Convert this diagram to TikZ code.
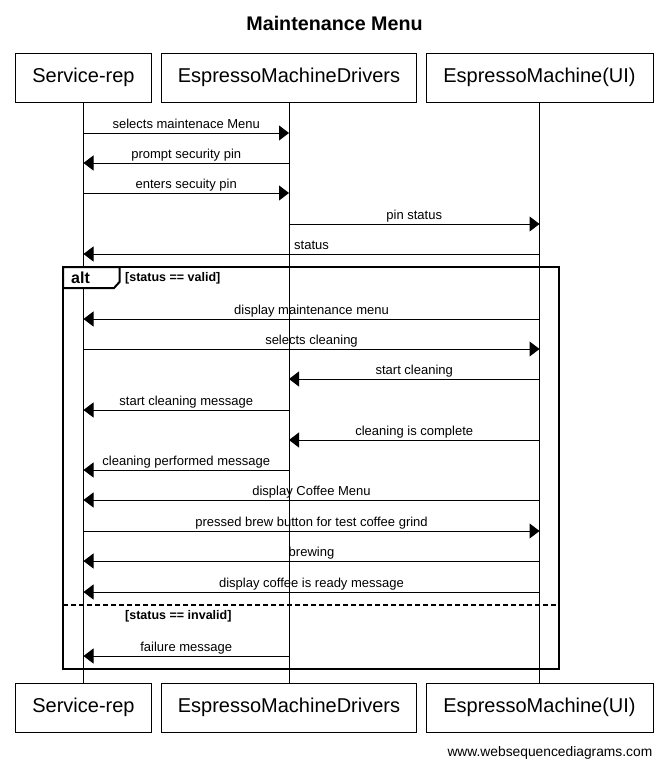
\documentclass[tikz,border=0pt]{standalone}
\usepackage{fontspec}
\setmainfont{Liberation Sans}
\usetikzlibrary{arrows.meta}

% One message: name, y, sender node, receiver node, label
\newcommand\Msg[5]{%
  \coordinate (#1a) at (#3.south |- 0,#2);
  \coordinate (#1b) at (#4.south |- 0,#2);
  \draw[msg] (#1a) -- node[lbl,yshift=4.5pt]{#5} (#1b);}

\begin{document}
\begin{tikzpicture}[x=1pt,y=-1pt,
  actor/.style={draw,line width=1pt,minimum height=49pt,inner sep=0pt,
    font=\fontsize{20}{24}\selectfont},
  lifeline/.style={line width=1pt},
  msg/.style={line width=1pt,-{Triangle[length=10pt,width=15pt]}},
  lbl/.style={anchor=base,inner sep=0pt,font=\fontsize{13}{15}\selectfont},
  frame/.style={line width=2pt},
  cond/.style={anchor=base west,inner sep=0pt,font=\bfseries\fontsize{12.5}{15}\selectfont}]
\useasboundingbox (0,0) rectangle (667,766);

% title
\node[anchor=base,inner sep=0pt,font=\bfseries\fontsize{19.7}{23}\selectfont]
  (title) at (334.5,30) {Maintenance Menu};

% participants, top and bottom
\node[actor,minimum width=136pt] (srT) at (83.5,77.5) {Service-rep};
\node[actor,minimum width=255pt] (drT) at (289,77.5) {EspressoMachineDrivers};
\node[actor,minimum width=227pt] (uiT) at (539.5,77.5) {EspressoMachine(UI)};
\node[actor,minimum width=136pt] (srB) at (83.5,707.5) {Service-rep};
\node[actor,minimum width=255pt] (drB) at (289,707.5) {EspressoMachineDrivers};
\node[actor,minimum width=227pt] (uiB) at (539.5,707.5) {EspressoMachine(UI)};

% lifelines
\draw[lifeline] (srT.south) -- (srB.north);
\draw[lifeline] (drT.south) -- (drB.north);
\draw[lifeline] (uiT.south) -- (uiB.north);

% messages before the alternative
\Msg{m1}{133}{srT}{drT}{selects maintenace Menu}
\Msg{m2}{163}{drT}{srT}{prompt security pin}
\Msg{m3}{193}{srT}{drT}{enters secuity pin}
\Msg{m4}{224}{drT}{uiT}{pin status}
\Msg{m5}{254}{uiT}{srT}{status}

% alt frame with its tab
\draw[frame] (63,267) rectangle (558.5,669);
\draw[frame,fill=white] (63,267) -- (119.5,267) -- (119.5,282) -- (114,288) -- (63,288) -- cycle;
\node[anchor=base west,inner sep=0pt,font=\bfseries\fontsize{16}{19}\selectfont]
  (altlbl) at (71,283) {alt};
\node[cond] (valid) at (125,281) {[status == valid]};
\draw[frame,dash pattern=on 5pt off 3pt] (63,605) -- (558.5,605);
\node[cond] (invalid) at (125,619) {[status == invalid]};

% valid branch
\Msg{m6}{319}{uiT}{srT}{display maintenance menu}
\Msg{m7}{349}{srT}{uiT}{selects cleaning}
\Msg{m8}{379}{uiT}{drT}{start cleaning}
\Msg{m9}{410}{drT}{srT}{start cleaning message}
\Msg{m10}{440}{uiT}{drT}{cleaning is complete}
\Msg{m11}{470}{drT}{srT}{cleaning performed message}
\Msg{m12}{500}{uiT}{srT}{display Coffee Menu}
\Msg{m13}{531}{srT}{uiT}{pressed brew button for test coffee grind}
\Msg{m14}{561}{uiT}{srT}{brewing}
\Msg{m15}{592}{uiT}{srT}{display coffee is ready message}

% invalid branch
\Msg{m16}{656}{drT}{srT}{failure message}

% footer
\node[anchor=base east,inner sep=0pt,font=\fontsize{13.8}{16}\selectfont]
  (credit) at (652.5,756) {www.websequencediagrams.com};
\end{tikzpicture}
\end{document}
